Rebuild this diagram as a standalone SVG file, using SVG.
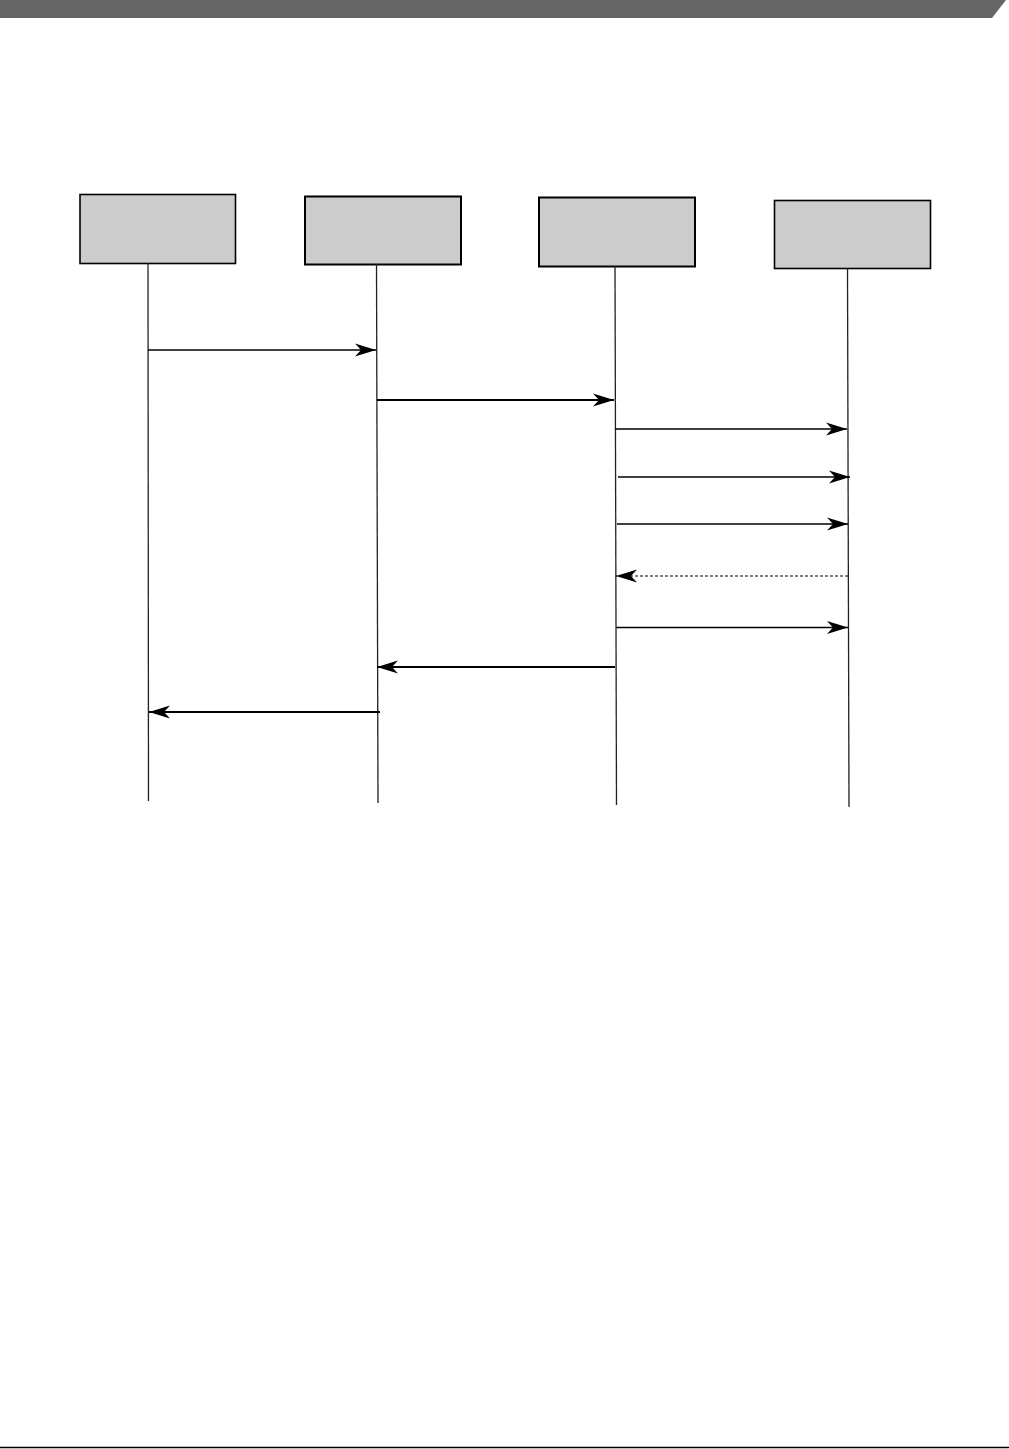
<svg xmlns="http://www.w3.org/2000/svg" width="1009" height="1449" viewBox="0 0 1009 1449">
<style>
.box{fill:#cccccc;stroke:#000;stroke-width:1.6}
.life{stroke:#222;stroke-width:1.3;fill:none}
.msg{stroke:#000;stroke-width:1.3;fill:none;marker-end:url(#ah)}
.msgb{stroke:#000;stroke-width:2;fill:none;marker-end:url(#ah)}
.dash{stroke:#000;stroke-width:1.2;stroke-dasharray:3,2;fill:none;marker-end:url(#ah)}
</style>
<defs>
<marker id="ah" viewBox="-23 -8 25 16" refX="0" refY="0" markerWidth="25" markerHeight="16" markerUnits="userSpaceOnUse" orient="auto">
<path d="M0,0 L-21,-6.5 L-15,0 L-21,6.5 Z" fill="#000"/>
</marker>
</defs>
<rect width="1009" height="1449" fill="#fff"/>
<polygon points="0,0 1006,0 992,18 0,18" fill="#666666"/>
<line x1="0" y1="1447.5" x2="1009" y2="1447.5" stroke="#000" stroke-width="1.5"/>
<g id="node1"><rect class="box" x="80" y="194.5" width="155.5" height="69"/><line class="life" x1="148" y1="263" x2="148.5" y2="801"/></g>
<g id="node2"><rect class="box" x="305" y="196.5" width="156" height="68" style="stroke-width:2"/><line class="life" x1="376.5" y1="264" x2="378" y2="803"/></g>
<g id="node3"><rect class="box" x="539" y="197.5" width="156" height="69" style="stroke-width:2"/><line class="life" x1="615" y1="266" x2="616.5" y2="805"/></g>
<g id="node4"><rect class="box" x="774.5" y="200.5" width="156" height="68"/><line class="life" x1="847.5" y1="268" x2="849" y2="807"/></g>
<g id="connectors">
<line class="msg" x1="148" y1="350" x2="376" y2="350"/>
<line class="msgb" x1="377" y1="400" x2="614" y2="400"/>
<line class="msg" x1="615" y1="429" x2="847" y2="429"/>
<line class="msg" x1="618" y1="477" x2="850" y2="477"/>
<line class="msg" x1="617" y1="524" x2="848" y2="524"/>
<line class="dash" x1="848" y1="576" x2="616" y2="576"/>
<line class="msg" x1="616" y1="627.5" x2="848" y2="627.5"/>
<line class="msgb" x1="615" y1="667" x2="377" y2="667"/>
<line class="msgb" x1="380" y1="712" x2="149" y2="712"/>
</g>
</svg>
